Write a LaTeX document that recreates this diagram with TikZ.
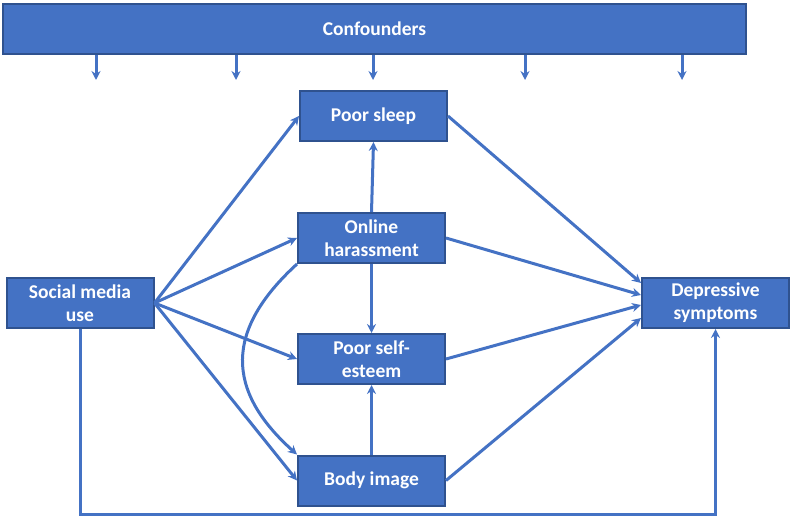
\documentclass[tikz,border=0pt]{standalone}
\usepackage{fontspec}
\setmainfont{Carlito}
\usetikzlibrary{arrows.meta}
\definecolor{boxblue}{RGB}{68,114,196}
\definecolor{edgeblue}{RGB}{47,82,143}
\tikzset{
    box/.style={draw=edgeblue, line width=2pt, fill=boxblue, rectangle, text=white,
        font=\fontsize{19.5}{23}\selectfont\bfseries, align=center,
        minimum width=147pt, minimum height=50pt, inner sep=2pt},
    arr/.style={draw=boxblue, line width=3pt, -{Stealth[length=9pt,width=9pt]}},
}

\begin{document}
\begin{tikzpicture}[x=1pt, y=-1pt]
    \useasboundingbox (0,0) rectangle (794,519);

    \node[box, minimum width=743pt] (conf) at (374.5,29) {Confounders};
    \node[box] (sleep) at (373.5,116) {Poor sleep};
    \node[box] (harass) at (371.5,238) {Online\\harassment};
    \node[box] (esteem) at (371.5,359) {Poor self-\\esteem};
    \node[box] (body) at (371.5,480.5) {Body image};
    \node[box] (social) at (80,303) {Social media\\use};
    \node[box] (depress) at (715.5,303) {Depressive\\symptoms};

    % confounder arrows
    \foreach \x [count=\i] in {96,236,373,525,682} {
        \coordinate (c\i) at (\x,80);
        \draw[arr] (c\i |- conf.south) -- (c\i);
    }

    % social media use to mediators
    \draw[arr] (social.east) -- (sleep.west);
    \draw[arr] (social.east) -- (harass.west);
    \draw[arr] (social.east) -- (esteem.west);
    \draw[arr] (social.east) -- (body.west);

    % between mediators
    \draw[arr] (harass.north) -- (sleep.south);
    \draw[arr] (harass.south) -- (esteem.north);
    \draw[arr] (body.north) -- (esteem.south);
    \draw[arr] (harass.south west) .. controls (225,330) and (225,390) .. (body.north west);

    % mediators to depressive symptoms
    \draw[arr] (sleep.east) -- ([yshift=20pt]depress.west);
    \draw[arr] (harass.east) -- ([yshift=8pt]depress.west);
    \draw[arr] (esteem.east) -- ([yshift=-2pt]depress.west);
    \draw[arr] (body.east) -- ([yshift=-15pt]depress.west);

    % direct path
    \coordinate (bot) at (400,514);
    \draw[arr] (social.south) |- (bot) -| (depress.south);
\end{tikzpicture}
\end{document}
